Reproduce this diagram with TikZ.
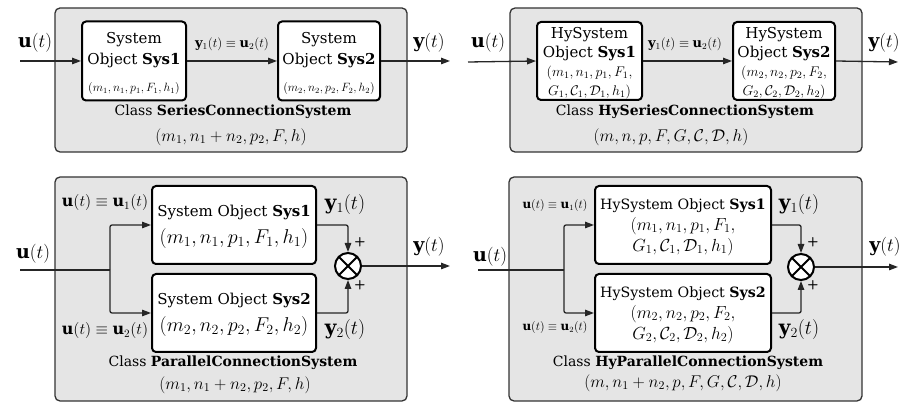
\RequirePackage{fix-cm}
\documentclass[tikz,border=0pt]{standalone}
\usepackage{fontspec}
\setmainfont{DejaVu Serif}
\usetikzlibrary{arrows.meta,calc}
\newcommand\fsz[2]{\fontsize{#1}{#2}\selectfont}
\newcommand\topstrut[1]{\rule{0pt}{#1}}
\begin{document}
\begin{tikzpicture}[x=1pt,y=-1pt,
  panel/.style={draw=black!80, line width=1.3pt, fill=black!10, rounded corners=5pt, inner sep=0pt},
  sysbox/.style={draw=black, line width=2pt, fill=white, rounded corners=4pt, inner sep=0pt, align=center},
  conn/.style={draw=black!85, line width=1.3pt, rounded corners=2pt},
  arr/.style={conn, -{Triangle[length=9pt,width=6.5pt]}},
  sumnode/.style={circle, draw=black, line width=2pt, fill=white, minimum size=26pt, inner sep=0pt,
    path picture={\draw[line width=2pt] (path picture bounding box.north west) -- (path picture bounding box.south east)
      (path picture bounding box.south west) -- (path picture bounding box.north east);}},
  lbl/.style={inner sep=0pt},
  plus/.style={font=\sffamily\bfseries\fsz{13}{13}, inner sep=0pt}]
\useasboundingbox (0,0) rectangle (903,403);

% ---------- top-left: series ----------
\node[panel, minimum width=352pt, minimum height=144pt] (P1) at (231,80) {};
\node[sysbox, minimum width=104pt, minimum height=79pt, font=\fsz{15}{21}] (A1) at (134,61)
  {\topstrut{17pt}System\\Object \textbf{Sys1}\\[6pt]{\fsz{12}{14}$(m_1,n_1,p_1,F_1,h_1)$}};
\node[sysbox, minimum width=102pt, minimum height=79pt, font=\fsz{15}{21}] (B1) at (329,61)
  {\topstrut{17pt}System\\Object \textbf{Sys2}\\[6pt]{\fsz{12}{14}$(m_2,n_2,p_2,F_2,h_2)$}};
\coordinate (in1) at (20,61);
\coordinate (out1) at (450,61);
\draw[arr] (in1) -- (A1.west);
\draw[arr] (A1.east) -- (B1.west);
\draw[arr] (B1.east) -- (out1);
\node[lbl] (u1) at (35,43) {\fsz{19}{19}$\mathbf{u}(t)$};
\node[lbl] (y1) at (429,43) {\fsz{19}{19}$\mathbf{y}(t)$};
\node[lbl] (m1) at (232,44) {\fsz{13}{13}$\mathbf{y}_1(t)\equiv\mathbf{u}_2(t)$};
\node[lbl] (c1) at (233,112) {\fsz{14}{14}Class \textbf{SeriesConnectionSystem}};
\node[lbl] (t1) at (231,137) {\fsz{17}{17}$(m_1,n_1+n_2,p_2,F,h)$};

% ---------- top-right: hybrid series ----------
\node[panel, minimum width=352pt, minimum height=144pt] (P2) at (686,80) {};
\node[sysbox, minimum width=105pt, minimum height=78pt, font=\fsz{15}{19}] (A2) at (589.5,61)
  {\topstrut{15pt}HySystem\\Object \textbf{Sys1}\\{\fsz{14}{16}$(m_1,n_1,p_1,F_1,$}\\{\fsz{14}{16}$G_1,\mathcal{C}_1,\mathcal{D}_1,h_1)$}};
\node[sysbox, minimum width=102pt, minimum height=78pt, font=\fsz{15}{19}] (B2) at (784,61)
  {\topstrut{15pt}HySystem\\Object \textbf{Sys2}\\{\fsz{14}{16}$(m_2,n_2,p_2,F_2,$}\\{\fsz{14}{16}$G_2,\mathcal{C}_2,\mathcal{D}_2,h_2)$}};
\coordinate (in2) at (468,62);
\coordinate (out2) at (898,62);
\draw[arr] (in2) -- (A2.west);
\draw[arr] (A2.east) -- (B2.west);
\draw[arr] (B2.east) -- (out2);
\node[lbl] (u2) at (488,43) {\fsz{19}{19}$\mathbf{u}(t)$};
\node[lbl] (y2) at (884,43) {\fsz{19}{19}$\mathbf{y}(t)$};
\node[lbl] (m2) at (685,44) {\fsz{13}{13}$\mathbf{y}_1(t)\equiv\mathbf{u}_2(t)$};
\node[lbl] (c2) at (685,112) {\fsz{14}{14}Class \textbf{HySeriesConnectionSystem}};
\node[lbl] (t2) at (671,137) {\fsz{17}{17}$(m,n,p,F,G,\mathcal{C},\mathcal{D},h)$};

% ---------- bottom-left: parallel ----------
\node[panel, minimum width=352pt, minimum height=224pt] (P3) at (231,289) {};
\node[sysbox, minimum width=164pt, minimum height=78pt, font=\fsz{15}{27}] (A3) at (234,225)
  {\topstrut{14pt}System Object \textbf{Sys1}\\{\fsz{20}{24}$(m_1,n_1,p_1,F_1,h_1)$}};
\node[sysbox, minimum width=164pt, minimum height=78pt, font=\fsz{15}{27}] (B3) at (234,313)
  {\topstrut{14pt}System Object \textbf{Sys2}\\{\fsz{20}{24}$(m_2,n_2,p_2,F_2,h_2)$}};
\node[sumnode] (S3) at (348,266) {};
\coordinate (in3) at (20,270);
\coordinate (br3) at (110,270);
\coordinate (out3) at (450,266);
\draw[conn] (in3) -- (br3);
\draw[arr] (br3) |- (A3.west);
\draw[arr] (br3) |- (B3.west);
\draw[arr] (A3.east) -| (S3.north);
\draw[arr] (B3.east) -| (S3.south);
\draw[arr] (S3.east) -- (out3);
\node[plus] (pa3) at (360,242) {+};
\node[plus] (pb3) at (360,285) {+};
\node[lbl] (u3) at (33,254) {\fsz{19}{19}$\mathbf{u}(t)$};
\node[lbl] (ua3) at (105,203) {\fsz{16}{16}$\mathbf{u}(t)\equiv\mathbf{u}_1(t)$};
\node[lbl] (ub3) at (105,331) {\fsz{16}{16}$\mathbf{u}(t)\equiv\mathbf{u}_2(t)$};
\node[lbl] (ya3) at (345,205) {\fsz{20}{20}$\mathbf{y}_1(t)$};
\node[lbl] (yb3) at (345,330) {\fsz{20}{20}$\mathbf{y}_2(t)$};
\node[lbl] (y3) at (429,247) {\fsz{19}{19}$\mathbf{y}(t)$};
\node[lbl] (c3) at (233,363) {\fsz{14}{14}Class \textbf{ParallelConnectionSystem}};
\node[lbl] (t3) at (235,385) {\fsz{17}{17}$(m_1,n_1+n_2,p_2,F,h)$};

% ---------- bottom-right: hybrid parallel ----------
\node[panel, minimum width=353pt, minimum height=224pt] (P4) at (685.5,289) {};
\node[sysbox, minimum width=176pt, minimum height=78pt, font=\fsz{14.2}{21}] (A4) at (683,225)
  {\topstrut{15pt}HySystem Object \textbf{Sys1}\\{\fsz{17.5}{20}$(m_1,n_1,p_1,F_1,$}\\{\fsz{17.5}{20}$G_1,\mathcal{C}_1,\mathcal{D}_1,h_1)$}};
\node[sysbox, minimum width=176pt, minimum height=78pt, font=\fsz{14.2}{21}] (B4) at (683,313)
  {\topstrut{15pt}HySystem Object \textbf{Sys2}\\{\fsz{17.5}{20}$(m_2,n_2,p_2,F_2,$}\\{\fsz{17.5}{20}$G_2,\mathcal{C}_2,\mathcal{D}_2,h_2)$}};
\node[sumnode] (S4) at (801,267) {};
\coordinate (in4) at (478,270);
\coordinate (br4) at (564,270);
\coordinate (out4) at (898,267);
\draw[conn] (in4) -- (br4);
\draw[arr] (br4) |- (A4.west);
\draw[arr] (br4) |- (B4.west);
\draw[arr] (A4.east) -| (S4.north);
\draw[arr] (B4.east) -| (S4.south);
\draw[arr] (S4.east) -- (out4);
\node[plus] (pa4) at (813,242) {+};
\node[plus] (pb4) at (813,285) {+};
\node[lbl] (u4) at (490,257) {\fsz{19}{19}$\mathbf{u}(t)$};
\node[lbl] (ua4) at (555,206) {\fsz{12}{12}$\mathbf{u}(t)\equiv\mathbf{u}_1(t)$};
\node[lbl] (ub4) at (555,328) {\fsz{12}{12}$\mathbf{u}(t)\equiv\mathbf{u}_2(t)$};
\node[lbl] (ya4) at (799,205) {\fsz{20}{20}$\mathbf{y}_1(t)$};
\node[lbl] (yb4) at (799,330) {\fsz{20}{20}$\mathbf{y}_2(t)$};
\node[lbl] (y4) at (885,247) {\fsz{19}{19}$\mathbf{y}(t)$};
\node[lbl] (c4) at (688,363) {\fsz{14}{14}Class \textbf{HyParallelConnectionSystem}};
\node[lbl] (t4) at (683,383) {\fsz{17}{17}$(m,n_1+n_2,p,F,G,\mathcal{C},\mathcal{D},h)$};
\end{tikzpicture}
\end{document}
